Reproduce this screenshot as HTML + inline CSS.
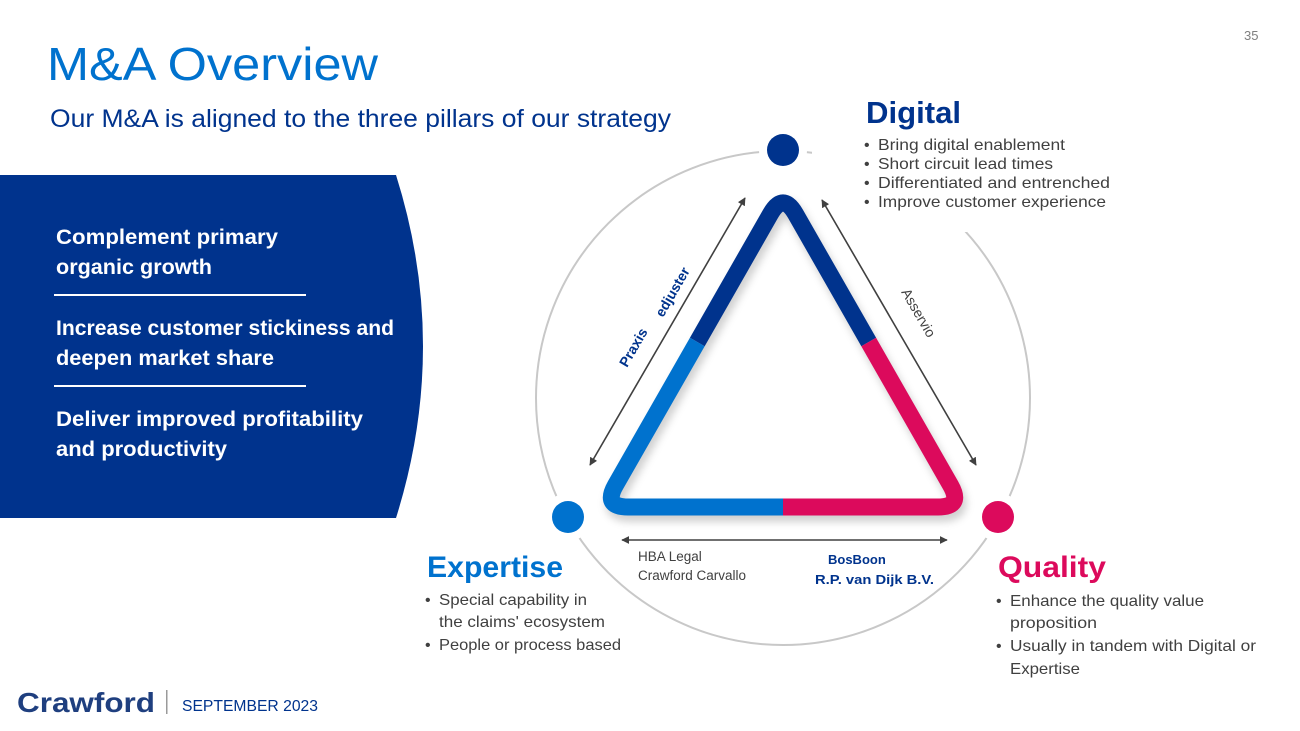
<!DOCTYPE html>
<html><head><meta charset="utf-8"><style>
html,body{margin:0;padding:0;background:#fff;}
svg{display:block;font-family:"Liberation Sans",sans-serif;}
</style></head><body>
<svg width="1300" height="731" viewBox="0 0 1300 731" xmlns="http://www.w3.org/2000/svg">
<defs>
<marker id="ah" viewBox="0 0 10 10" refX="9" refY="5" markerWidth="8" markerHeight="8" orient="auto-start-reverse" markerUnits="userSpaceOnUse"><path d="M0,0 L10,5 L0,10 z" fill="#404040"/></marker>
<filter id="sh" x="-10%" y="-10%" width="130%" height="130%"><feGaussianBlur stdDeviation="4"/></filter>
</defs>
<rect width="1300" height="731" fill="#fff"/>
<text x="1244" y="40" font-size="13" fill="#7f7f7f">35</text>
<text x="47" y="80" font-size="46" fill="#0072ce" textLength="331" lengthAdjust="spacingAndGlyphs">M&amp;A Overview</text>
<text x="50" y="127" font-size="25" fill="#00338d" textLength="621" lengthAdjust="spacingAndGlyphs">Our M&amp;A is aligned to the three pillars of our strategy</text>

<path d="M0,175 L396,175 Q450,346 396,518 L0,518 Z" fill="#00338d"/>
<g fill="#fff" font-weight="bold" font-size="21">
<text x="56" y="244" textLength="222" lengthAdjust="spacingAndGlyphs">Complement primary</text>
<text x="56" y="274" textLength="156" lengthAdjust="spacingAndGlyphs">organic growth</text>
<text x="56" y="335" textLength="338" lengthAdjust="spacingAndGlyphs">Increase customer stickiness and</text>
<text x="56" y="365" textLength="218" lengthAdjust="spacingAndGlyphs">deepen market share</text>
<text x="56" y="426" textLength="307" lengthAdjust="spacingAndGlyphs">Deliver improved profitability</text>
<text x="56" y="456" textLength="171" lengthAdjust="spacingAndGlyphs">and productivity</text>
</g>
<rect x="54" y="294" width="252" height="2" fill="#fff"/>
<rect x="54" y="385" width="252" height="2" fill="#fff"/>

<circle cx="783" cy="398" r="247" fill="none" stroke="#c8c8c8" stroke-width="2"/>
<rect x="812" y="95" width="155" height="137" fill="#fff"/>
<circle cx="783" cy="150" r="24" fill="#fff"/>
<circle cx="568" cy="517" r="24" fill="#fff"/>
<circle cx="998" cy="517" r="24" fill="#fff"/>

<path d="M770.6,213.7 Q783,192 795.4,213.7 L950.6,485.3 Q963,507 938,507 L628,507 Q603,507 615.4,485.3 Z" fill="none" stroke="#000" stroke-opacity="0.18" stroke-width="18" transform="translate(3,6)" filter="url(#sh)"/>
<g fill="none" stroke-width="17" stroke-linecap="butt" stroke-linejoin="round">
<path d="M697.3,342 L770.6,213.7 Q783,192 795.4,213.7 L868.7,342" stroke="#00338d"/>
<path d="M697.3,342 L615.4,485.3 Q603,507 628,507 L783,507" stroke="#0072ce"/>
<path d="M868.7,342 L950.6,485.3 Q963,507 938,507 L783,507" stroke="#dc0a5c"/>
</g>
<circle cx="783" cy="150" r="16" fill="#00338d"/>
<circle cx="568" cy="517" r="16" fill="#0072ce"/>
<circle cx="998" cy="517" r="16" fill="#dc0a5c"/>

<g stroke="#404040" stroke-width="1.6" fill="none">
<line x1="745" y1="198" x2="590" y2="465" marker-start="url(#ah)" marker-end="url(#ah)"/>
<line x1="822" y1="200" x2="976" y2="465" marker-start="url(#ah)" marker-end="url(#ah)"/>
<line x1="622" y1="540" x2="947" y2="540" marker-start="url(#ah)" marker-end="url(#ah)"/>
</g>
<text transform="translate(627,368) rotate(-60)" font-size="14" font-weight="bold" fill="#00338d">Praxis</text>
<text transform="translate(663,318) rotate(-60)" font-size="14" font-weight="bold" fill="#00338d">edjuster</text>
<text transform="translate(901,292) rotate(60)" font-size="14" fill="#404040">Asservio</text>

<text x="638" y="561" font-size="13.5" fill="#404040">HBA Legal</text>
<text x="638" y="580" font-size="13.5" fill="#404040">Crawford Carvallo</text>
<text x="828" y="564" font-size="13" font-weight="bold" fill="#00338d">BosBoon</text>
<text x="815" y="584" font-size="13" font-weight="bold" fill="#00338d" textLength="119" lengthAdjust="spacingAndGlyphs">R.P. van Dijk B.V.</text>

<text x="866" y="123" font-size="31" font-weight="bold" fill="#00338d" textLength="95" lengthAdjust="spacingAndGlyphs">Digital</text>
<g font-size="16" fill="#404040">
<text x="864" y="150">•</text><text x="878" y="150" textLength="187" lengthAdjust="spacingAndGlyphs">Bring digital enablement</text>
<text x="864" y="169">•</text><text x="878" y="169" textLength="175" lengthAdjust="spacingAndGlyphs">Short circuit lead times</text>
<text x="864" y="188">•</text><text x="878" y="188" textLength="232" lengthAdjust="spacingAndGlyphs">Differentiated and entrenched</text>
<text x="864" y="207">•</text><text x="878" y="207" textLength="228" lengthAdjust="spacingAndGlyphs">Improve customer experience</text>
</g>

<text x="427" y="577" font-size="30" font-weight="bold" fill="#0072ce" textLength="136" lengthAdjust="spacingAndGlyphs">Expertise</text>
<g font-size="16" fill="#404040">
<text x="425" y="605">•</text><text x="439" y="605" textLength="148" lengthAdjust="spacingAndGlyphs">Special capability in</text>
<text x="439" y="627" textLength="166" lengthAdjust="spacingAndGlyphs">the claims' ecosystem</text>
<text x="425" y="650">•</text><text x="439" y="650" textLength="182" lengthAdjust="spacingAndGlyphs">People or process based</text>
</g>

<text x="998" y="577" font-size="30" font-weight="bold" fill="#dc0a5c" textLength="108" lengthAdjust="spacingAndGlyphs">Quality</text>
<g font-size="16" fill="#404040">
<text x="996" y="606">•</text><text x="1010" y="606" textLength="194" lengthAdjust="spacingAndGlyphs">Enhance the quality value</text>
<text x="1010" y="628" textLength="87" lengthAdjust="spacingAndGlyphs">proposition</text>
<text x="996" y="651">•</text><text x="1010" y="651" textLength="246" lengthAdjust="spacingAndGlyphs">Usually in tandem with Digital or</text>
<text x="1010" y="674" textLength="70" lengthAdjust="spacingAndGlyphs">Expertise</text>
</g>

<text x="17" y="712" font-size="28" font-weight="bold" fill="#1f3f7f" textLength="138" lengthAdjust="spacingAndGlyphs">Crawford</text>
<rect x="166" y="690" width="1.5" height="24" fill="#9a9a9a"/>
<text x="182" y="711" font-size="16" fill="#00338d" textLength="136" lengthAdjust="spacingAndGlyphs">SEPTEMBER 2023</text>
</svg>
</body></html>
